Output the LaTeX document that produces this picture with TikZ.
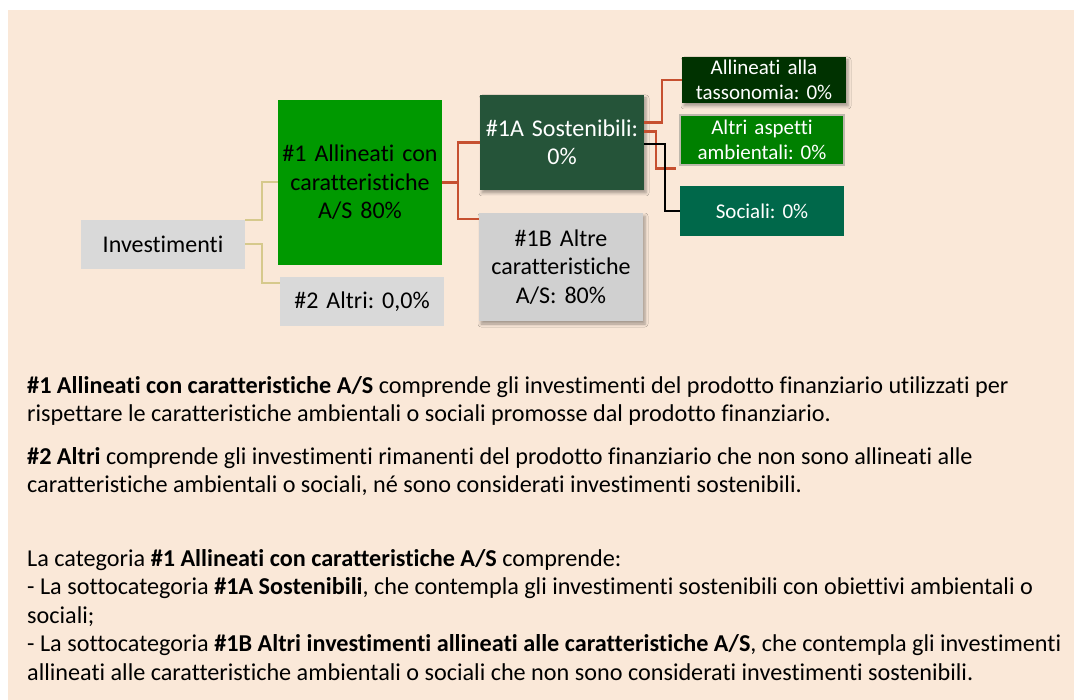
\documentclass[tikz,border=0pt]{standalone}
\usepackage{fontspec}
\setmainfont{Carlito}[Ligatures=NoCommon]
\usetikzlibrary{calc,shadows.blur}
\definecolor{peach}{RGB}{250,232,216}
\definecolor{boxgray}{RGB}{217,217,217}
\definecolor{altregray}{RGB}{208,208,208}
\definecolor{asgreen}{RGB}{0,153,0}
\definecolor{sostgreen}{RGB}{37,84,57}
\definecolor{tassgreen}{RGB}{0,50,0}
\definecolor{ambgreen}{RGB}{0,128,0}
\definecolor{socgreen}{RGB}{0,104,74}
\definecolor{framegray}{RGB}{190,184,172}
\definecolor{linekhaki}{RGB}{214,201,140}
\definecolor{linered}{RGB}{198,80,48}
\frenchspacing
\begin{document}
\begin{tikzpicture}[x=1pt,y=-1pt,
  box/.style={inner sep=0pt,minimum width=164pt,text width=160pt,align=center,
    font=\fontsize{24}{28.5}\selectfont},
  smallbox/.style={box,font=\fontsize{21}{25}\selectfont},
  shade/.style={blur shadow={shadow xshift=2pt,shadow yshift=-3pt,
    shadow blur radius=3pt,shadow opacity=35}},
  khaki/.style={draw=linekhaki,line width=2pt},
  redline/.style={draw=linered,line width=2.5pt},
  para/.style={anchor=base west,align=left,inner sep=0pt,
    font=\fontsize{24.2}{28.5}\selectfont}]
  \useasboundingbox (0,0) rectangle (1074,700);
  \fill[peach] (8,10) rectangle (1074,700);

  \node[box,fill=boxgray,minimum height=49pt] (inv) at (163,244.5) {Investimenti};
  \node[box,fill=asgreen,minimum height=165pt] (as) at (360,182.5) {\#1 Allineati con\\caratteristiche\\A/S 80\%};
  \node[box,fill=boxgray,minimum height=49pt] (altri) at (362,301.5) {\#2 Altri: 0,0\%};
  \node[box,shade,fill=sostgreen,text=white,minimum height=95pt] (sost) at (562,142.5) {\#1A Sostenibili:\\0\%};
  \node[box,shade,fill=altregray,minimum height=108pt] (altre) at (561,267) {\#1B Altre\\caratteristiche\\A/S: 80\%};
  \node[smallbox,shade,fill=tassgreen,text=white,minimum height=46pt] (tass) at (764,80) {Allineati alla\\tassonomia: 0\%};
  \node[smallbox,fill=ambgreen,text=white,minimum height=50pt,draw=framegray,line width=1.5pt] (amb) at (762,140) {Altri aspetti\\ambientali: 0\%};
  \node[smallbox,fill=socgreen,text=white,minimum height=50pt] (soc) at (762,211) {Sociali: 0\%};

  \draw[khaki] (inv.north east) -- ++(17,0) |- (as.west);
  \draw[khaki] (inv.east) -- ++(17,0) |- ($(altri.north west)+(0,6)$);
  \draw[redline] (as.east) -- ++(16,0) |- (sost.west);
  \draw[redline] (as.east) -- ++(16,0) |- ($(altre.north west)+(0,6)$);
  \draw[redline] ($(sost.east)+(0,-20)$) -- ++(18,0) |- (tass.west);
  \coordinate (ambin) at ($(amb.south west)+(-3,3)$);
  \draw[redline] ($(sost.east)+(0,-11)$) -- ++(12,0) |- (ambin);
  \draw[black,line width=2pt] ($(sost.east)+(0,2)$) -- ++(21,0) |- (soc.west);

  \node[para] (p1) at (27,422) {\textbf{\#1 Allineati con caratteristiche A/S} comprende gli investimenti del prodotto finanziario utilizzati per\\
    rispettare le caratteristiche ambientali o sociali promosse dal prodotto finanziario.};
  \node[para] (p2) at (27,493) {\textbf{\#2 Altri} comprende gli investimenti rimanenti del prodotto finanziario che non sono allineati alle\\
    caratteristiche ambientali o sociali, né sono considerati investimenti sostenibili.};
  \node[para] (p3) at (27,680) {La categoria \textbf{\#1 Allineati con caratteristiche A/S} comprende:\\
    - La sottocategoria \textbf{\#1A Sostenibili}, che contempla gli investimenti sostenibili con obiettivi ambientali o\\
    sociali;\\
    - La sottocategoria \textbf{\#1B Altri investimenti allineati alle caratteristiche A/S}, che contempla gli investimenti\\
    allineati alle caratteristiche ambientali o sociali che non sono considerati investimenti sostenibili.};
\end{tikzpicture}
\end{document}
